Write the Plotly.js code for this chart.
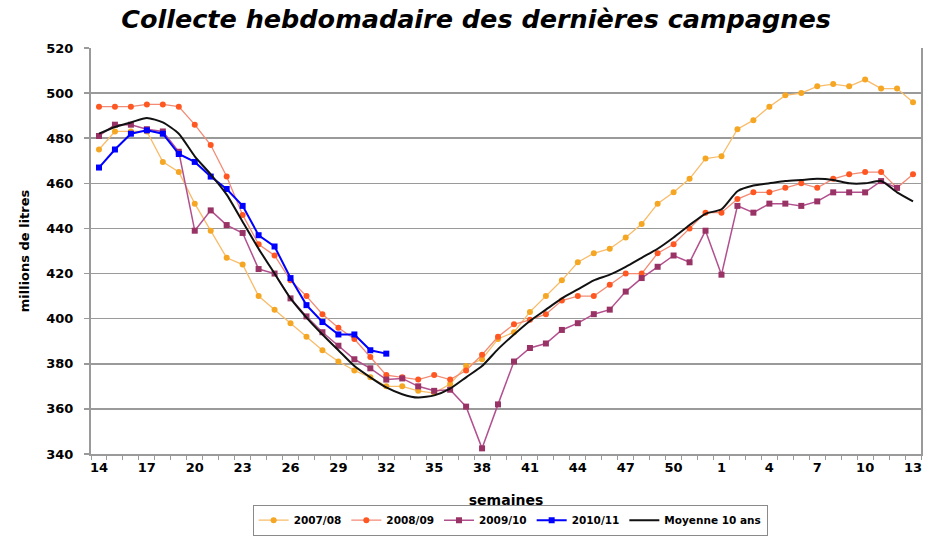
<!DOCTYPE html>
<html>
<head>
<meta charset="utf-8">
<script src="https://cdn.plot.ly/plotly-3.0.1.min.js"></script>
<style>html,body{margin:0;padding:0;background:#fff;}#chart{width:928px;height:536px;}</style>
</head>
<body>
<div id="chart"></div>
<script>
// Weeks of the campaign (week 14 of year N to week 13 of year N+1)
const weeks = [14,15,16,17,18,19,20,21,22,23,24,25,26,27,28,29,30,31,32,33,34,35,36,37,38,39,40,41,42,43,44,45,46,47,48,49,50,51,52,1,2,3,4,5,6,7,8,9,10,11,12,13];

const seriesNames = ["2007/08", "2008/09", "2009/10", "2010/11", "Moyenne 10 ans"];

const v0708 = [475,483,483,483,469.5,465,451,439,427,424,410,404,398,392,386,381,377,374,370,370,368,367,371,379,382,391,394,403,410,417,425,429,431,436,442,451,456,462,471,472,484,488,494,499,500,503,504,503,506,502,502,496];

const v0809 = [494,494,494,495,495,494,486,477,463,446,433,428,417,410,402,396,391,383,375,374,373,375,373,377,384,392,397.5,399.5,402,408,410,410,415,420,420,429,433,440,447,447,453,456,456,458,460,458,462,464,465,465,458,464];

const v0910 = [481,486,486,484,483,474,439,448,441.5,438,422,420,409,401,394,388,382,378,373,373.5,370,368,368.5,361,342.5,362,381,387,389,395,398,402,404,412,418,423,428,425,439,419.5,450,447,451,451,450,452,456,456,456,461,458,null];

const v1011 = [467,475,482,483.5,482,473,469.5,463,457.5,450,437,432,418,406,398.5,393,393,386,384.5];

const vMoy = [482,485,487,489,487,482,472,464,455,443,431,420,409,400.5,393,386,379,374,369.5,366.5,365,366,369,374,379,386.5,393,399,404,409,413,417,419.5,423,427,431,436,441.5,446.5,448.5,456.5,459,460,461,461.5,462,461.5,460,460,461,456,452];

const idx = (arr) => arr.map((_, i) => i);
const tickIdx = weeks.map((_, i) => i).filter(i => i % 3 === 0);
const tickTxt = tickIdx.map(i => String(weeks[i]));

const FONT = "DejaVu Sans";

const traces = [
  {x: idx(v0708), y: v0708, name: seriesNames[0], mode: "lines+markers",
   line: {color: "#F8BC6A", width: 1.3}, marker: {color: "#F5A623", size: 6, symbol: "circle"}},
  {x: idx(v0809), y: v0809, name: seriesNames[1], mode: "lines+markers",
   line: {color: "#F38A74", width: 1.3}, marker: {color: "#FF5722", size: 6, symbol: "circle"}},
  {x: idx(v0910), y: v0910, name: seriesNames[2], mode: "lines+markers",
   line: {color: "#B2508E", width: 1.5}, marker: {color: "#993366", size: 6, symbol: "square"}},
  {x: idx(v1011), y: v1011, name: seriesNames[3], mode: "lines+markers",
   line: {color: "#0000FF", width: 2}, marker: {color: "#0000FF", size: 6, symbol: "square"}},
  {x: idx(vMoy), y: vMoy, name: seriesNames[4], mode: "lines",
   line: {color: "#111111", width: 2, shape: "spline", smoothing: 0.6}}
];

const layout = {
  width: 928, height: 536,
  paper_bgcolor: "#ffffff", plot_bgcolor: "#ffffff",
  margin: {l: 91, r: 7, t: 48, b: 82, autoexpand: false},
  title: {
    text: "Collecte hebdomadaire des dernières campagnes",
    font: {family: FONT, size: 25.5, weight: 700, style: "italic", color: "#000"},
    x: 0.513, xanchor: "center", xref: "container",
    y: 0.964, yanchor: "middle", yref: "container"
  },
  xaxis: {
    range: [-0.5, 51.5],
    tickmode: "array", tickvals: tickIdx, ticktext: tickTxt,
    ticks: "", showgrid: false, zeroline: false,
    showline: true, linecolor: "#9a9a9a", linewidth: 2,
    tickfont: {family: FONT, size: 13, weight: 700, color: "#000"},
    minor: {ticks: "outside", tick0: 0.5, dtick: 1, ticklen: 4, tickcolor: "#9a9a9a", tickwidth: 1, showgrid: false},
    title: {text: "semaines", font: {family: FONT, size: 14, weight: 700, color: "#000"}, standoff: 22}
  },
  yaxis: {
    range: [340, 520], dtick: 20, tick0: 340,
    ticks: "outside", ticklen: 5, tickcolor: "#9a9a9a", tickwidth: 1.5,
    ticklabelstandoff: 8,
    showgrid: true, gridcolor: "#9a9a9a", gridwidth: 1.5,
    zeroline: false,
    showline: true, linecolor: "#9a9a9a", linewidth: 2, mirror: true,
    tickfont: {family: FONT, size: 13, weight: 700, color: "#000"},
    title: {text: "millions de litres", font: {family: FONT, size: 13, weight: 700, color: "#000"}, standoff: 14}
  },
  legend: {
    orientation: "h", x: 0.505, xanchor: "center", y: -0.163, yanchor: "middle",
    bordercolor: "#8a8a8a", borderwidth: 1, bgcolor: "#ffffff",
    font: {family: FONT, size: 10.5, weight: 700, color: "#000"},
    itemwidth: 30
  },
  showlegend: true
};

Plotly.newPlot("chart", traces, layout, {displayModeBar: false, staticPlot: true});
</script>
</body>
</html>
